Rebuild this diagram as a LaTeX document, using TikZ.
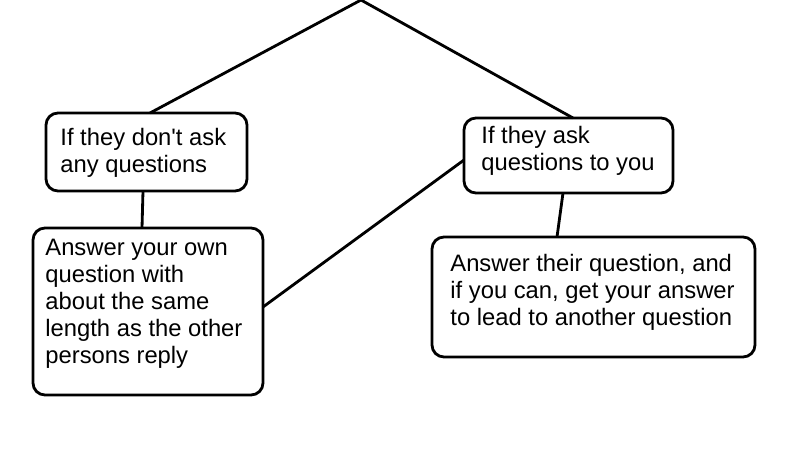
\documentclass[tikz,border=0pt]{standalone}
\usepackage{fontspec}
\setmainfont{Liberation Sans}
\usetikzlibrary{calc}

\begin{document}
\begin{tikzpicture}[x=0.03cm,y=-0.03cm,line width=2.4pt,
	box/.style={draw,rounded corners=0.36cm,inner sep=0pt,outer sep=0pt},
	txt/.style={anchor=base west,align=left,inner sep=0pt,font=\fontsize{20.3pt}{23pt}\selectfont}]
	\useasboundingbox (0,0) rectangle (800,475);
	\coordinate (top) at (361,0);

	\node[box,minimum width=6.03cm,minimum height=2.34cm] at (146.5,152)(noask){};
	\node[txt] at (59,172)(noasktxt){If they don\textquotesingle t ask\\any questions};

	\node[box,minimum width=6.27cm,minimum height=2.25cm] at (568.5,155.5)(ask){};
	\node[txt] at (480,170)(asktxt){If they ask\\questions to you};

	\node[box,minimum width=6.9cm,minimum height=5.01cm] at (148,311.5)(own){};
	\node[txt] at (44,363)(owntxt){Answer your own\\question with\\about the same\\length as the other\\persons reply};

	\node[box,minimum width=9.69cm,minimum height=3.6cm] at (593.5,297)(their){};
	\node[txt] at (449,325)(theirtxt){Answer their question, and\\if you can, get your answer\\to lead to another question};

	\draw (top) -- ($(noask.north)+(3.5,0)$);
	\draw (top) -- ($(ask.north)+(4.5,0)$);
	\draw ($(noask.south)+(-3.5,0)$) -- ($(own.north)+(-6,0)$);
	\draw ($(own.east)+(0,-4.5)$) -- ($(ask.west)+(0,4.5)$);
	\draw ($(ask.south)+(-5.5,0)$) -- ($(their.north)+(-36.5,0)$);
\end{tikzpicture}
\end{document}
